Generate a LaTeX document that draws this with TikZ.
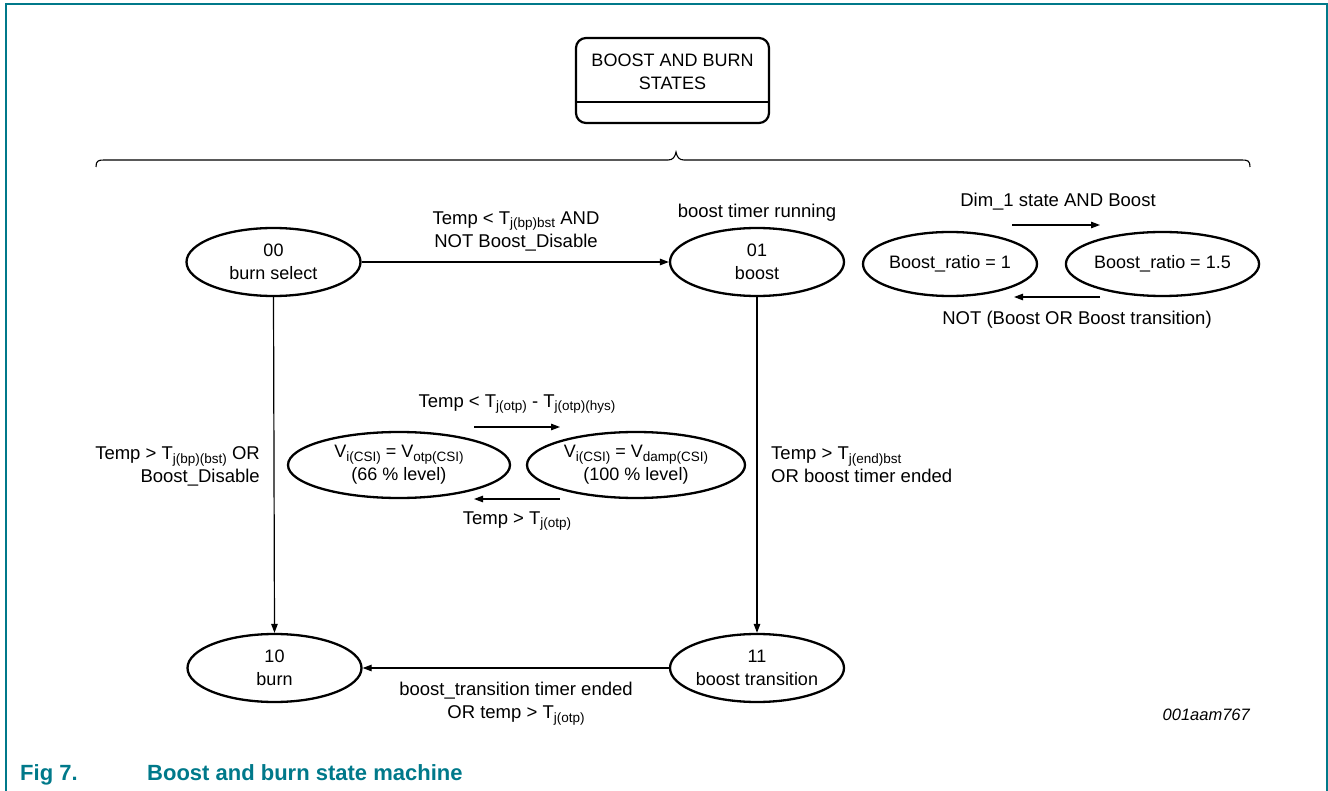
\documentclass[tikz,border=0pt]{standalone}
\usepackage{fontspec}
\setmainfont{Liberation Sans}
\usetikzlibrary{shapes.geometric,arrows.meta}
\definecolor{nxpteal}{RGB}{0,121,138}
\newcommand\sbs[1]{\raisebox{-0.4ex}{\fontsize{13.5}{13.5}\selectfont #1}}
\begin{document}
\begin{tikzpicture}[x=1pt,y=-1pt,
  txt/.style={font=\fontsize{18.5}{23}\selectfont, inner sep=0pt, align=center},
  stateell/.style={ellipse, draw, line width=2.3pt, inner sep=0pt,
     minimum width=174pt, minimum height=68pt, align=center, font=\fontsize{18}{23}\selectfont},
  conn/.style={line width=1.2pt, -{Triangle[length=9pt,width=6.5pt]}},
  captxt/.style={anchor=base west, inner sep=0pt, text=nxpteal, font=\fontsize{22}{26}\selectfont\bfseries},
]
\useasboundingbox (0,0) rectangle (1328,791);
% frame
\draw[nxpteal, line width=2pt] (5.5,795) -- (5.5,4.5) -- (1326.5,4.5) -- (1326.5,795);
% title box
\node[draw, line width=2.2pt, rounded corners=10pt, minimum width=193pt, minimum height=85pt, inner sep=0pt] (title) at (672.5,80.5) {};
\node[txt, font=\fontsize{18}{23}\selectfont, anchor=center] (titletxt) at (672.5,71.5) {BOOST AND BURN\\STATES};
\draw[line width=2.2pt] ([yshift=22pt]title.south west) -- ([yshift=22pt]title.south east);
% brace
\draw[line width=1.1pt] (96,167) .. controls (96,161) and (98,160) .. (104,160) -- (668,160)
  .. controls (673,160) and (675,157) .. (676,152)
  .. controls (677,157) and (679,160) .. (684,160) -- (1242,160)
  .. controls (1248,160) and (1250,161) .. (1250,167);
% states
\node[stateell] (s00) at (273.5,262) {00\\burn select};
\node[stateell] (s01) at (757,262) {01\\boost};
\node[stateell] (s10) at (274.5,668) {10\\burn};
\node[stateell] (s11) at (757,668) {11\\boost transition};
\node[stateell, minimum height=64pt] (br1) at (950,264) {Boost\_ratio = 1};
\node[stateell, minimum height=64pt] (br15) at (1162.5,264) {Boost\_ratio = 1.5};
\node[stateell, minimum width=222pt, minimum height=66pt] (vo) at (399,465) {V\sbs{i(CSI)} = V\sbs{otp(CSI)}\\(66 \% level)};
\node[stateell, minimum width=218pt, minimum height=66pt] (vd) at (636,465) {V\sbs{i(CSI)} = V\sbs{damp(CSI)}\\(100 \% level)};
% main transitions
\draw[conn] (s00) -- (s01);
\draw[conn] (s00.south) -- (s10.north);
\draw[conn] (s01.south) -- (s11.north);
\draw[conn] (s11) -- (s10);
% labels
\node[txt] (l1) at (516,231) {Temp < T\sbs{j(bp)bst} AND\\NOT Boost\_Disable};
\node[txt] (l2) at (757,213) {boost timer running};
\node[txt, align=right, anchor=east] (l3) at (260,466) {Temp > T\sbs{j(bp)(bst)} OR\\Boost\_Disable};
\node[txt, align=left, anchor=west] (l4) at (771,465) {Temp > T\sbs{j(end)bst}\\OR boost timer ended};
\node[txt] (l5) at (516,704) {boost\_transition timer ended\\OR temp > T\sbs{j(otp)}};
% dim arrows
\coordinate (d1a) at (1012,225); \coordinate (d1b) at (1100,225);
\coordinate (d2a) at (1100,297); \coordinate (d2b) at (1014,297);
\draw[conn] (d1a) -- (d1b);
\draw[conn] (d2a) -- (d2b);
\node[txt] (l6) at (1058,202) {Dim\_1 state AND Boost};
\node[txt] (l7) at (1077,320) {NOT (Boost OR Boost transition)};
% otp arrows
\coordinate (o1a) at (474,427); \coordinate (o1b) at (560,427);
\coordinate (o2a) at (560,499); \coordinate (o2b) at (474,499);
\draw[conn] (o1a) -- (o1b);
\draw[conn] (o2a) -- (o2b);
\node[txt] (l8) at (517,404) {Temp < T\sbs{j(otp)} - T\sbs{j(otp)(hys)}};
\node[txt] (l9) at (517,521) {Temp > T\sbs{j(otp)}};
% id
\node[txt, anchor=east, font=\fontsize{16.5}{19}\selectfont\itshape] (fid) at (1250,715) {001aam767};
% caption
\node[captxt] (cap1) at (20,780) {Fig 7.};
\node[captxt] (cap2) at (147,780) {Boost and burn state machine};
\end{tikzpicture}
\end{document}
